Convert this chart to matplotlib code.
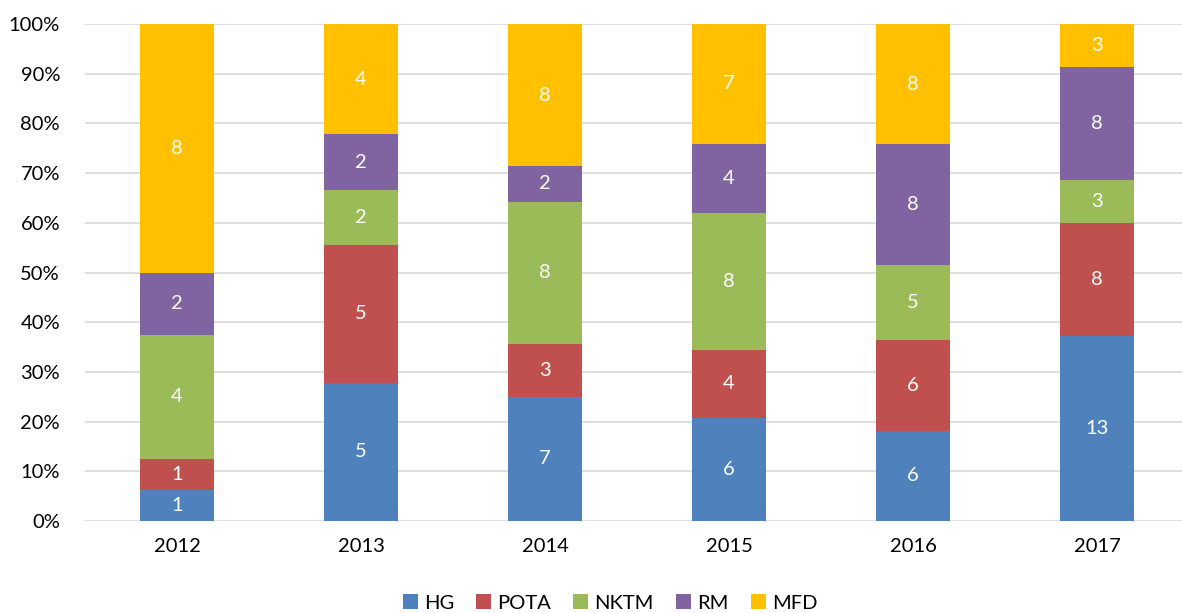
import matplotlib.pyplot as plt
import numpy as np

plt.rcParams['font.family'] = ['Lato', 'DejaVu Sans']

# 数据
years = ['2012', '2013', '2014', '2015', '2016', '2017']
series_names = ['HG', 'POTA', 'NKTM', 'RM', 'MFD']
hg = [1, 5, 7, 6, 6, 13]
pota = [1, 5, 3, 4, 6, 8]
nktm = [4, 2, 8, 8, 5, 3]
rm = [2, 2, 2, 4, 8, 8]
mfd = [8, 4, 8, 7, 8, 3]
colors = ['#4F81BD', '#C0504D', '#9BBB59', '#8064A2', '#FFC000']

counts = np.array([hg, pota, nktm, rm, mfd], dtype=float)
totals = counts.sum(axis=0)
shares = counts / totals * 100

W, H = 1182, 613
fig = plt.figure(figsize=(W / 100, H / 100), dpi=100)
ax = fig.add_axes([85 / W, 92 / H, 1104 / W, 497 / H])

x = np.arange(len(years))
bottom = np.zeros(len(years))
handles = []
for i, name in enumerate(series_names):
    bars = ax.bar(x, shares[i], width=0.4, bottom=bottom, color=colors[i],
                  label=name, zorder=3)
    handles.append(bars)
    for j in range(len(years)):
        ax.text(x[j], bottom[j] + shares[i][j] / 2, f'{int(counts[i][j])}',
                ha='center', va='center', color='white', fontsize=14.5, zorder=4)
    bottom += shares[i]

ax.set_xlim(-0.5, len(years) - 0.5)
ax.set_ylim(0, 100)
ax.set_yticks(np.arange(0, 101, 10))
ax.set_yticklabels([f'{v}%' for v in range(0, 101, 10)])
ax.set_xticks(x)
ax.set_xticklabels(years)
ax.tick_params(axis='both', length=0, labelsize=14.5, colors='#000000')
ax.tick_params(axis='x', pad=12)
ax.tick_params(axis='y', pad=18)

ax.grid(axis='y', color='#D9D9D9', linewidth=1.2, zorder=0)
for s in ax.spines.values():
    s.set_visible(False)

fig.legend(handles=handles, labels=series_names, loc='center',
           bbox_to_anchor=(610 / W, 1 - 603 / H), ncol=5, frameon=False,
           fontsize=14.5, handlelength=0.75, handleheight=0.75, handletextpad=0.3,
           columnspacing=1.1)

fig.savefig('out.png', dpi=100)
